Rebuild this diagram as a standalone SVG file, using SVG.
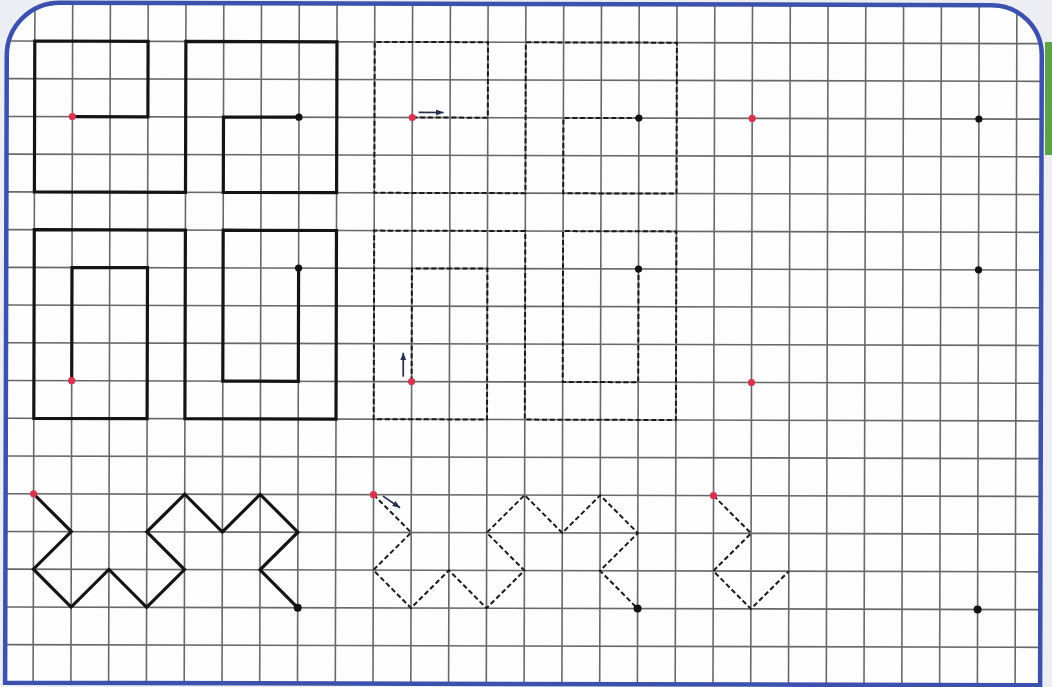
<svg xmlns="http://www.w3.org/2000/svg" width="1052" height="687" viewBox="0 0 1052 687">
  <defs>
    <style>
      .grid { fill: none; stroke: #686868; stroke-width: 1.6; }
      .solid { fill: none; stroke: #141414; stroke-width: 3.2; stroke-linejoin: miter; stroke-linecap: square; }
      .dash { fill: none; stroke: #1a1a1a; stroke-width: 2; stroke-dasharray: 5 2.8; stroke-linejoin: miter; }
      .red { fill: #d9334f; }
      .blk { fill: #111111; }
      .arrow { fill: none; stroke: #25304c; stroke-width: 1.7; marker-end: url(#head); }
    </style>
    <marker id="head" markerUnits="userSpaceOnUse" markerWidth="9" markerHeight="7" refX="7.5" refY="3" orient="auto">
      <path d="M0 0 L7.5 3 L0 6 Z" fill="#25304c"/>
    </marker>
    <clipPath id="sheet">
      <path d="M6 684 V57 A53 53 0 0 1 59 4 H991 A50 50 0 0 1 1041 54 V684 Z"/>
    </clipPath>
  </defs>

  <rect id="background" x="0" y="0" width="1052" height="687" fill="#eceef3"/>
  <rect id="tab" x="1045" y="42" width="7" height="113" fill="#5ba548"/>

  <g transform="rotate(0.15 526 343)">
    <path id="sheet-fill" d="M6 684 V57 A53 53 0 0 1 59 4 H991 A50 50 0 0 1 1041 54 V684 Z" fill="#fdfdfd"/>

    <g id="grid" clip-path="url(#sheet)">
      <path class="grid" d="M34 4V684M71.8 4V684M109.5 4V684M147.3 4V684M185.1 4V684M222.9 4V684M260.6 4V684M298.4 4V684M336.2 4V684M373.9 4V684M411.7 4V684M449.5 4V684M487.2 4V684M525 4V684M562.8 4V684M600.6 4V684M638.3 4V684M676.1 4V684M713.9 4V684M751.6 4V684M789.4 4V684M827.2 4V684M864.9 4V684M902.7 4V684M940.5 4V684M978.3 4V684M1016 4V684"/>
      <path class="grid" d="M6 42.3H1041M6 80H1041M6 117.8H1041M6 155.5H1041M6 193.2H1041M6 231H1041M6 268.7H1041M6 306.4H1041M6 344.1H1041M6 381.9H1041M6 419.6H1041M6 457.3H1041M6 495.1H1041M6 532.8H1041M6 570.5H1041M6 608.3H1041M6 646H1041"/>
    </g>

    <path id="border" d="M6 684 V57 A53 53 0 0 1 59 4 H991 A50 50 0 0 1 1041 54 V684 Z" fill="none" stroke="#3c50ad" stroke-width="4.5"/>

    <g id="connectors">
      <g id="figure-1">
        <polyline id="figure-1-model" class="solid" points="71.8,117.8 147.3,117.8 147.3,42.3 34,42.3 34,193.2 185.1,193.2 185.1,42.3 336.2,42.3 336.2,193.2 222.9,193.2 222.9,117.8 298.4,117.8"/>
        <polyline id="figure-1-trace" class="dash" points="411.7,117.8 487.2,117.8 487.2,42.3 373.9,42.3 373.9,193.2 525,193.2 525,42.3 676.1,42.3 676.1,193.2 562.8,193.2 562.8,117.8 638.3,117.8"/>
        <line class="arrow" x1="418" y1="112.7" x2="443" y2="112.7"/>
      </g>
      <g id="figure-2">
        <polyline id="figure-2-model" class="solid" points="71.8,381.9 71.8,268.7 147.3,268.7 147.3,419.6 34,419.6 34,231 185.1,231 185.1,419.6 336.2,419.6 336.2,231 222.9,231 222.9,381.9 298.4,381.9 298.4,268.7"/>
        <polyline id="figure-2-trace" class="dash" points="411.7,381.9 411.7,268.7 487.2,268.7 487.2,419.6 373.9,419.6 373.9,231 525,231 525,419.6 676.1,419.6 676.1,231 562.8,231 562.8,381.9 638.3,381.9 638.3,268.7"/>
        <line class="arrow" x1="403.3" y1="377" x2="403.3" y2="353"/>
      </g>
      <g id="figure-3">
        <polyline id="figure-3-model" class="solid" points="34,495.1 71.8,532.8 34,570.5 71.8,608.3 109.5,570.5 147.3,608.3 185.1,570.5 147.3,532.8 185.1,495.1 222.9,532.8 260.6,495.1 298.4,532.8 260.6,570.5 298.4,608.3"/>
        <polyline id="figure-3-trace" class="dash" points="373.9,495.1 411.7,532.8 373.9,570.5 411.7,608.3 449.5,570.5 487.2,608.3 525,570.5 487.2,532.8 525,495.1 562.8,532.8 600.6,495.1 638.3,532.8 600.6,570.5 638.3,608.3"/>
        <polyline id="figure-3-partial" class="dash" points="713.9,495.1 751.6,532.8 713.9,570.5 751.6,608.3 789.4,570.5"/>
        <line class="arrow" x1="383.3" y1="496.5" x2="400.5" y2="508"/>
      </g>
    </g>

    <g id="start-points">
      <circle class="red" cx="71.8" cy="117.8" r="3.6"/>
      <circle class="red" cx="411.7" cy="117.8" r="3.6"/>
      <circle class="red" cx="751.6" cy="117.8" r="3.6"/>
      <circle class="red" cx="71.8" cy="381.9" r="3.6"/>
      <circle class="red" cx="411.7" cy="381.9" r="3.6"/>
      <circle class="red" cx="751.6" cy="381.9" r="3.6"/>
      <circle class="red" cx="34" cy="495.1" r="3.6"/>
      <circle class="red" cx="373.9" cy="495.1" r="3.6"/>
      <circle class="red" cx="713.9" cy="495.1" r="3.6"/>
    </g>
    <g id="end-points">
      <circle class="blk" cx="298.4" cy="117.8" r="3.6"/>
      <circle class="blk" cx="638.3" cy="117.8" r="3.6"/>
      <circle class="blk" cx="978.3" cy="117.8" r="3.6"/>
      <circle class="blk" cx="298.4" cy="268.7" r="3.6"/>
      <circle class="blk" cx="638.3" cy="268.7" r="3.6"/>
      <circle class="blk" cx="978.3" cy="268.7" r="3.6"/>
      <circle class="blk" cx="298.4" cy="608.3" r="4"/>
      <circle class="blk" cx="638.3" cy="608.3" r="4"/>
      <circle class="blk" cx="978.3" cy="608.3" r="4"/>
    </g>
  </g>
</svg>
